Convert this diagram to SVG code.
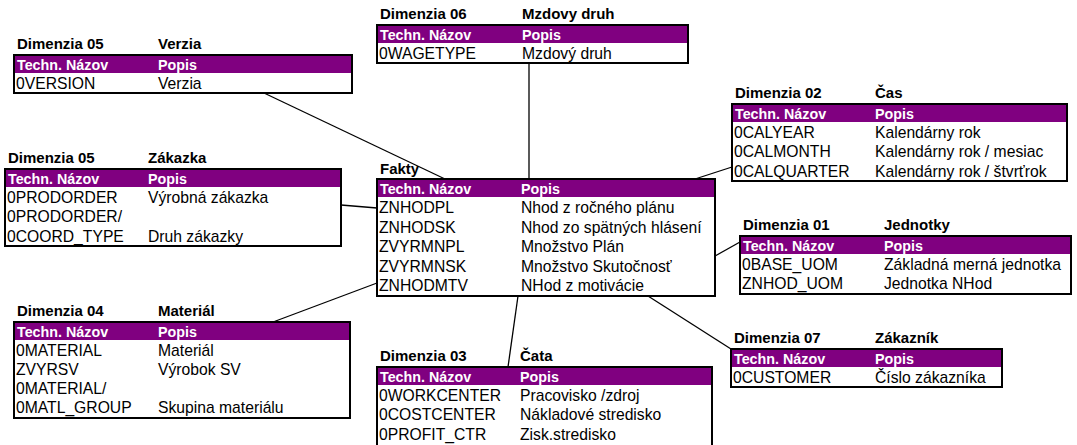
<svg xmlns="http://www.w3.org/2000/svg" width="1077" height="445" viewBox="0 0 1077 445">
<style>
.bg{fill:#ffffff}
.box{fill:#ffffff;stroke:#000000;stroke-width:2}
.hdr{fill:#800080}
.ht{font-family:"Liberation Sans",Arial,sans-serif;font-size:14.3px;font-weight:bold;fill:#ffffff}
.t{font-family:"Liberation Sans",Arial,sans-serif;font-size:15.7px;fill:#000000}
.lbl{font-family:"Liberation Sans",Arial,sans-serif;font-size:15px;font-weight:bold;fill:#000000}
.ln{stroke:#000000;stroke-width:1.3;fill:none}
</style>
<rect class="bg" x="0" y="0" width="1077" height="445"/>
<g id="connectors">
<line class="ln" x1="264" y1="93" x2="445" y2="179"/>
<line class="ln" x1="529" y1="63" x2="529" y2="179"/>
<line class="ln" x1="732" y1="167" x2="695" y2="179"/>
<line class="ln" x1="341" y1="205" x2="377" y2="208"/>
<line class="ln" x1="715" y1="256" x2="740" y2="242"/>
<line class="ln" x1="377" y1="283" x2="273" y2="322"/>
<line class="ln" x1="518" y1="296" x2="508" y2="367"/>
<line class="ln" x1="648" y1="296" x2="731" y2="349"/>
</g>
<g id="dim06">
<text class="lbl" x="380" y="19">Dimenzia 06</text><text class="lbl" x="522" y="19">Mzdovy druh</text>
<rect class="box" x="377" y="25" width="311" height="38"/>
<rect class="hdr" x="378" y="26" width="309" height="17"/>
<text class="ht" x="380" y="39.5">Techn. Názov</text><text class="ht" x="522" y="39.5">Popis</text>
<text class="t" x="379" y="59">0WAGETYPE</text><text class="t" x="522" y="59">Mzdový druh</text>
</g>
<g id="dim05v">
<text class="lbl" x="17" y="49">Dimenzia 05</text><text class="lbl" x="158" y="49">Verzia</text>
<rect class="box" x="14" y="55" width="338" height="38"/>
<rect class="hdr" x="15" y="56" width="336" height="17"/>
<text class="ht" x="17" y="69.5">Techn. Názov</text><text class="ht" x="158" y="69.5">Popis</text>
<text class="t" x="16" y="89">0VERSION</text><text class="t" x="158" y="89">Verzia</text>
</g>
<g id="dim02">
<text class="lbl" x="735" y="98">Dimenzia 02</text><text class="lbl" x="875" y="98">Čas</text>
<rect class="box" x="732" y="104" width="335" height="77"/>
<rect class="hdr" x="733" y="105" width="333" height="17"/>
<text class="ht" x="735" y="118.5">Techn. Názov</text><text class="ht" x="875" y="118.5">Popis</text>
<text class="t" x="734" y="138">0CALYEAR</text><text class="t" x="875" y="138">Kalendárny rok</text>
<text class="t" x="734" y="157.3">0CALMONTH</text><text class="t" x="875" y="157.3">Kalendárny rok / mesiac</text>
<text class="t" x="734" y="176.6">0CALQUARTER</text><text class="t" x="875" y="176.6">Kalendárny rok / štvrťrok</text>
</g>
<g id="dim05z">
<text class="lbl" x="8" y="163">Dimenzia 05</text><text class="lbl" x="148" y="163">Zákazka</text>
<rect class="box" x="5" y="169" width="336" height="77"/>
<rect class="hdr" x="6" y="170" width="334" height="17"/>
<text class="ht" x="8" y="183.5">Techn. Názov</text><text class="ht" x="148" y="183.5">Popis</text>
<text class="t" x="7" y="203">0PRODORDER</text><text class="t" x="148" y="203">Výrobná zákazka</text>
<text class="t" x="7" y="222.3">0PRODORDER/</text>
<text class="t" x="7" y="241.6">0COORD_TYPE</text><text class="t" x="148" y="241.6">Druh zákazky</text>
</g>
<g id="fakty">
<text class="lbl" x="380" y="174">Fakty</text>
<rect class="box" x="377" y="179" width="338" height="117"/>
<rect class="hdr" x="378" y="180" width="336" height="17"/>
<text class="ht" x="380" y="193.5">Techn. Názov</text><text class="ht" x="521" y="193.5">Popis</text>
<text class="t" x="379" y="213">ZNHODPL</text><text class="t" x="521" y="213">Nhod z ročného plánu</text>
<text class="t" x="379" y="232.5">ZNHODSK</text><text class="t" x="521" y="232.5">Nhod zo spätných hlásení</text>
<text class="t" x="379" y="252">ZVYRMNPL</text><text class="t" x="521" y="252">Množstvo Plán</text>
<text class="t" x="379" y="271.5">ZVYRMNSK</text><text class="t" x="521" y="271.5">Množstvo Skutočnosť</text>
<text class="t" x="379" y="291">ZNHODMTV</text><text class="t" x="521" y="291">NHod z motivácie</text>
</g>
<g id="dim01">
<text class="lbl" x="743" y="230">Dimenzia 01</text><text class="lbl" x="884" y="230">Jednotky</text>
<rect class="box" x="740" y="236" width="331" height="58"/>
<rect class="hdr" x="741" y="237" width="329" height="17"/>
<text class="ht" x="743" y="250.5">Techn. Názov</text><text class="ht" x="884" y="250.5">Popis</text>
<text class="t" x="742" y="270">0BASE_UOM</text><text class="t" x="884" y="270">Základná merná jednotka</text>
<text class="t" x="742" y="289.3">ZNHOD_UOM</text><text class="t" x="884" y="289.3">Jednotka NHod</text>
</g>
<g id="dim04">
<text class="lbl" x="17" y="316">Dimenzia 04</text><text class="lbl" x="158" y="316">Materiál</text>
<rect class="box" x="14" y="322" width="336" height="96"/>
<rect class="hdr" x="15" y="323" width="334" height="17"/>
<text class="ht" x="17" y="336.5">Techn. Názov</text><text class="ht" x="158" y="336.5">Popis</text>
<text class="t" x="16" y="355.5">0MATERIAL</text><text class="t" x="158" y="355.5">Materiál</text>
<text class="t" x="16" y="374.5">ZVYRSV</text><text class="t" x="158" y="374.5">Výrobok SV</text>
<text class="t" x="16" y="393.5">0MATERIAL/</text>
<text class="t" x="16" y="412.5">0MATL_GROUP</text><text class="t" x="158" y="412.5">Skupina materiálu</text>
</g>
<g id="dim03">
<text class="lbl" x="380" y="361">Dimenzia 03</text><text class="lbl" x="520" y="361">Čata</text>
<rect class="box" x="377" y="367" width="335" height="80"/>
<rect class="hdr" x="378" y="368" width="333" height="17"/>
<text class="ht" x="380" y="381.5">Techn. Názov</text><text class="ht" x="520" y="381.5">Popis</text>
<text class="t" x="379" y="401">0WORKCENTER</text><text class="t" x="520" y="401">Pracovisko /zdroj</text>
<text class="t" x="379" y="420.3">0COSTCENTER</text><text class="t" x="520" y="420.3">Nákladové stredisko</text>
<text class="t" x="379" y="439.6">0PROFIT_CTR</text><text class="t" x="520" y="439.6">Zisk.stredisko</text>
</g>
<g id="dim07">
<text class="lbl" x="734" y="343">Dimenzia 07</text><text class="lbl" x="875" y="343">Zákazník</text>
<rect class="box" x="731" y="349" width="271" height="38"/>
<rect class="hdr" x="732" y="350" width="269" height="17"/>
<text class="ht" x="734" y="363.5">Techn. Názov</text><text class="ht" x="875" y="363.5">Popis</text>
<text class="t" x="733" y="383">0CUSTOMER</text><text class="t" x="875" y="383">Číslo zákazníka</text>
</g>
</svg>
